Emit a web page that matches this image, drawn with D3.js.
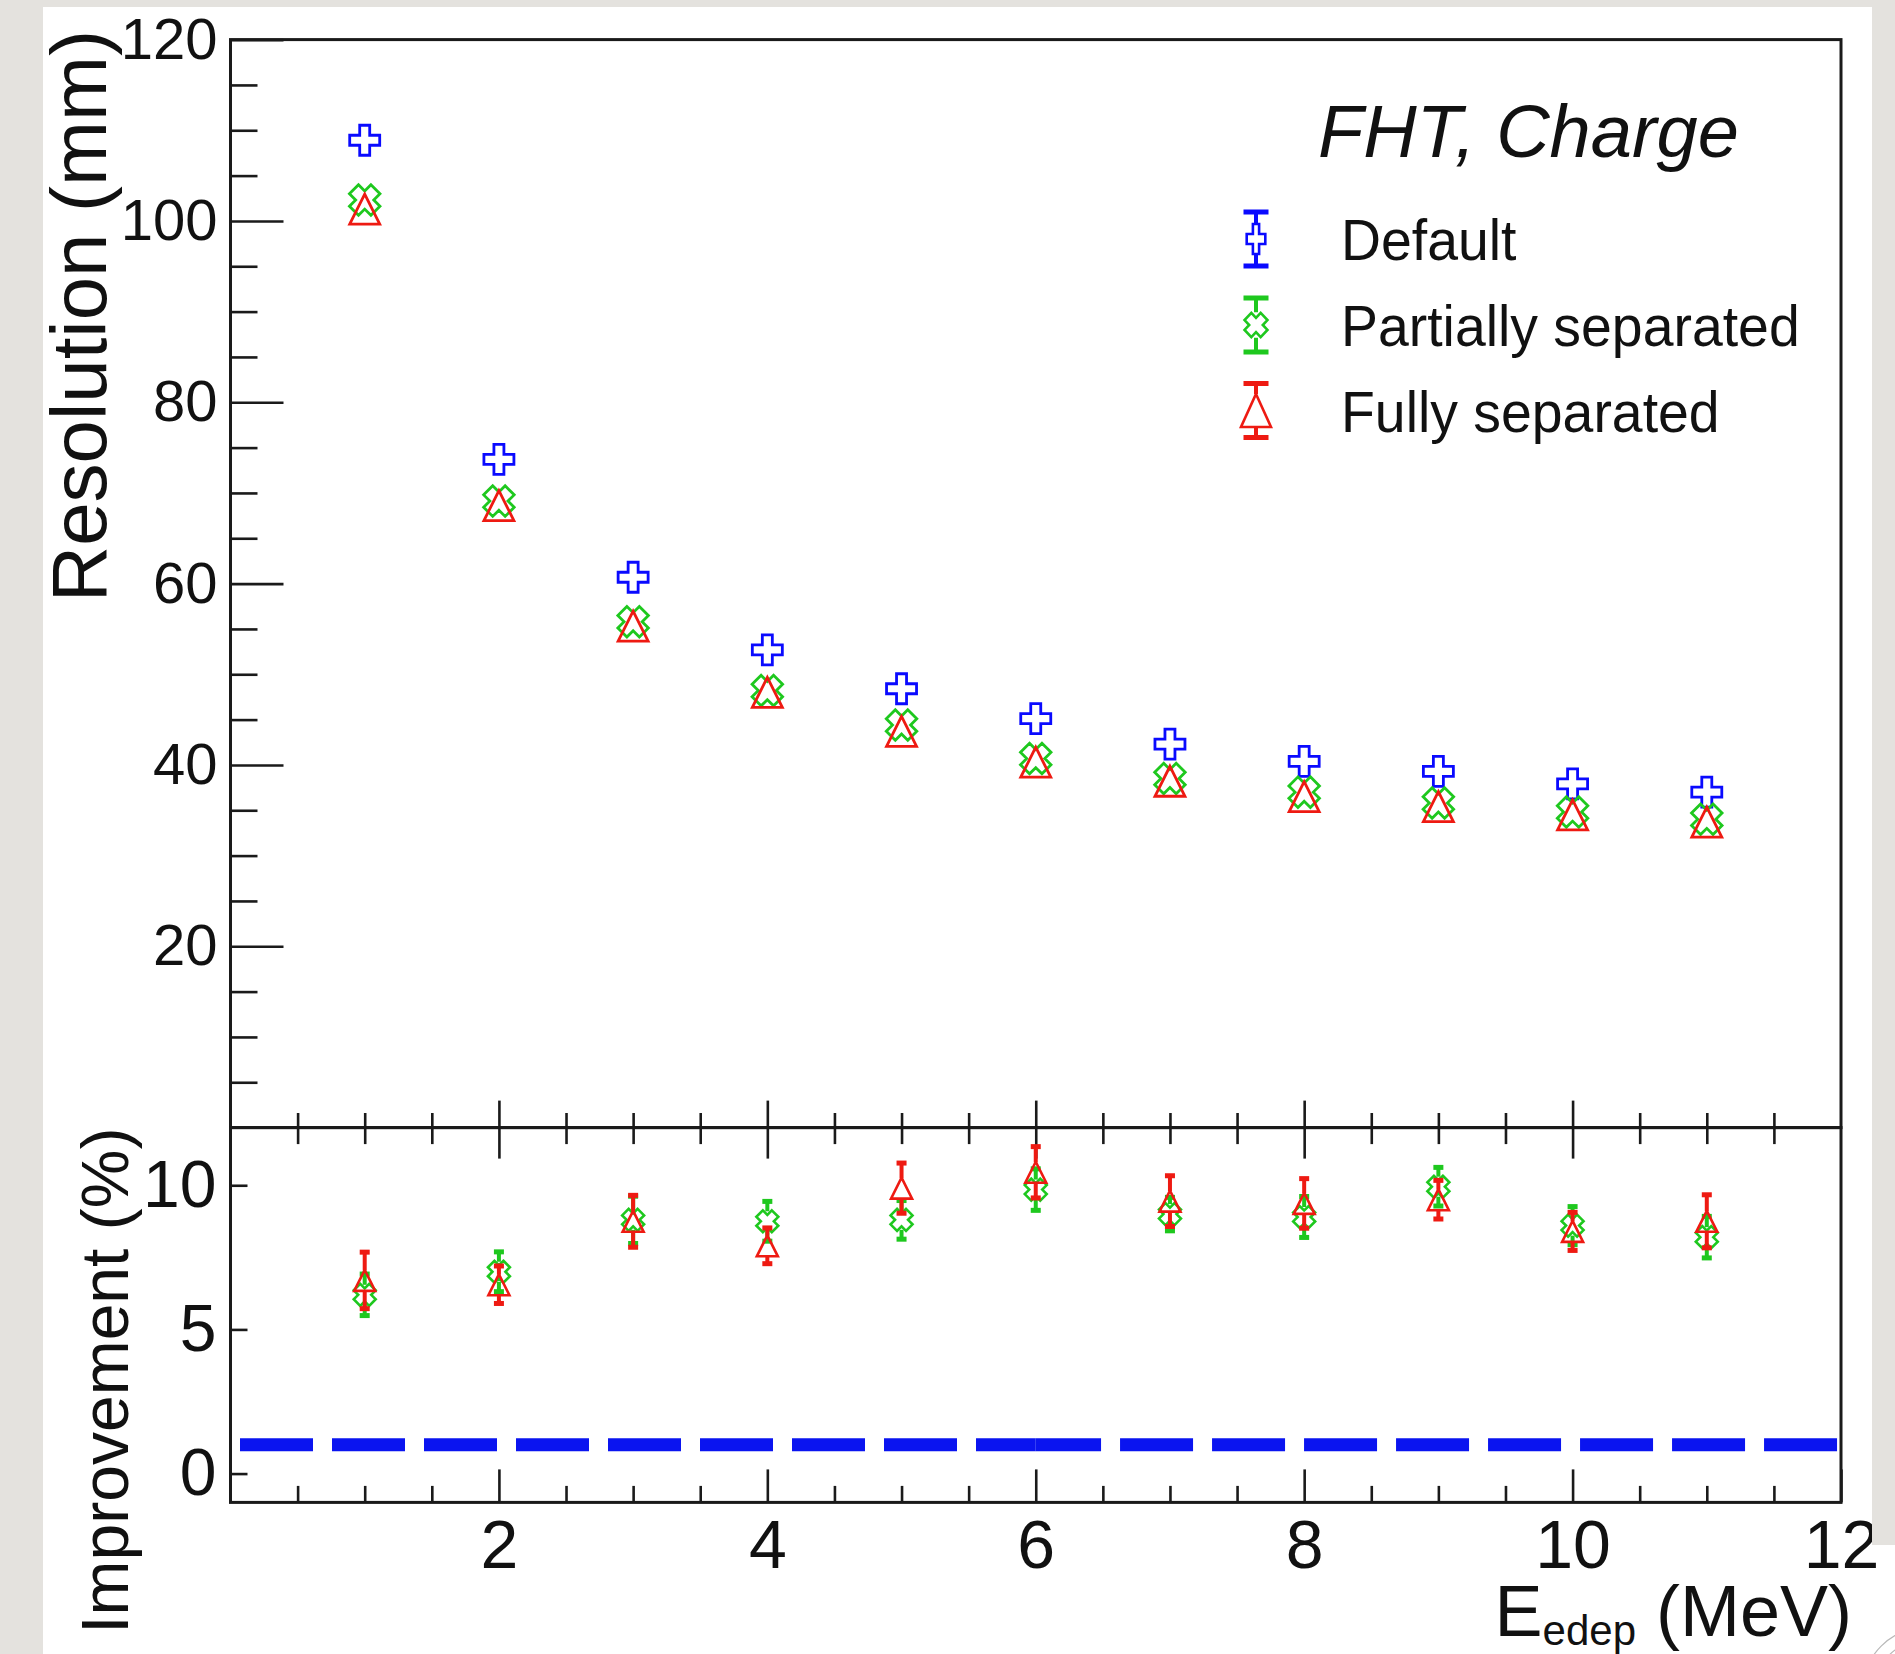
<!DOCTYPE html>
<html>
<head>
<meta charset="utf-8">
<script src="https://cdn.jsdelivr.net/npm/d3@7"></script>
<style>
  body { margin: 0; background: #e4e2de; }
  svg { display: block; font-family: "Liberation Sans", Arial, sans-serif; }
</style>
</head>
<body>
<svg id="chart" width="1895" height="1654"></svg>
<script>
// ---- data ----
const energies = [1, 2, 3, 4, 5, 6, 7, 8, 9, 10, 11];

// resolution (mm), upper pad
const resDefault = [108.9, 73.7, 60.7, 52.7, 48.4, 45.1, 42.3, 40.4, 39.3, 37.9, 37.0];
const resPartial = [102.3, 69.1, 55.8, 48.2, 44.4, 40.7, 38.5, 37.0, 35.8, 34.8, 34.0];
const resFull    = [101.3, 68.6, 55.3, 48.0, 43.7, 40.3, 38.2, 36.5, 35.4, 34.5, 33.7];

// improvement (%), lower pad
const impPartial    = [6.2, 7.0, 8.8, 8.75, 8.8, 9.85, 9.0, 8.9, 9.95, 8.6, 8.2];
const impPartialErr = [0.72, 0.69, 0.82, 0.69, 0.67, 0.72, 0.58, 0.71, 0.67, 0.66, 0.72];
const impFull       = [6.7, 6.55, 8.75, 7.9, 9.9, 10.45, 9.45, 9.37, 9.5, 8.4, 8.75];
const impFullErr    = [0.98, 0.65, 0.9, 0.62, 0.87, 0.89, 0.88, 0.86, 0.67, 0.66, 0.92];

const refLevel = 1;              // dashed line in lower pad
const refSegments = [[0, 6], [6, 12]];

const xTicks = [2, 4, 6, 8, 10, 12];
const resTicks = [20, 40, 60, 80, 100, 120];
const impTicks = [0, 5, 10];

const seriesNames = ['Default', 'Partially separated', 'Fully separated'];
const seriesColors = ['#0a0aff', '#1ec81e', '#ee1a12'];
const seriesShapes = ['cross', 'xcross', 'triangle'];

// ---- layout ----
const frame = {left: 230.5, right: 1841, top: 39.6, mid: 1127.6, bottom: 1502.4};

const svg = d3.select('#chart');

svg.append('rect').attr('width', 1895).attr('height', 1654).attr('fill', '#e4e2de');
svg.append('rect').attr('x', 43).attr('y', 7).attr('width', 1852).attr('height', 1647).attr('fill', '#fff');

const x = d3.scaleLinear().domain([0, 12]).range([frame.left, frame.right]);
const yRes = d3.scaleLinear().domain([0, 120]).range([frame.mid, frame.top]);
const yImp = d3.scaleLinear().domain([-1, 12]).range([frame.bottom, frame.mid]);

function markerPath(shape, s) {
  const a = s / 2;
  if (shape === 'triangle') {
    return `M0,${-a}L${a},${a}L${-a},${a}Z`;
  }
  const w = shape === 'xcross' ? s / 5 : s / 6;
  const h = shape === 'xcross' ? a * 0.95 : a;
  let pts = [[-w, -h], [w, -h], [w, -w], [h, -w], [h, w], [w, w], [w, h],
    [-w, h], [-w, w], [-h, w], [-h, -w], [-w, -w]];
  if (shape === 'xcross') {
    const c = Math.SQRT1_2;
    pts = pts.map(([px, py]) => [c * (px - py), c * (px + py)]);
  }
  return 'M' + pts.map(p => p.join(',')).join('L') + 'Z';
}

function drawAxis(axis, tx, ty, fs) {
  const g = svg.append('g').attr('transform', `translate(${tx},${ty})`).call(axis);
  g.select('.domain').remove();
  g.attr('font-family', null).attr('font-size', fs);
  g.selectAll('line').attr('stroke', '#1a1a1a').attr('stroke-width', 2.6);
  g.selectAll('text').attr('fill', '#111');
  return g;
}

const xMinor = d3.range(0.5, 12, 0.5).filter(v => v % 2 !== 0);
const xMajorInner = xTicks.filter(v => v < 12);

// upper pad axes
drawAxis(d3.axisLeft(yRes).tickValues(resTicks).tickSize(-53).tickPadding(13), frame.left, 0, 58);
drawAxis(d3.axisLeft(yRes).tickValues(d3.range(5, 120, 5).filter(v => v % 20 !== 0)).tickSize(-27).tickFormat(''), frame.left, 0, 10);
drawAxis(d3.axisTop(x).tickValues(xMajorInner).tickSize(27).tickFormat(''), 0, frame.mid, 10);
drawAxis(d3.axisTop(x).tickValues(xMinor).tickSize(14.6).tickFormat(''), 0, frame.mid, 10);

// lower pad axes
drawAxis(d3.axisBottom(x).tickValues(xMajorInner).tickSize(31).tickFormat(''), 0, frame.mid, 10);
drawAxis(d3.axisBottom(x).tickValues(xMinor).tickSize(16.5).tickFormat(''), 0, frame.mid, 10);
drawAxis(d3.axisBottom(x).tickValues(xTicks).tickSize(-33).tickPadding(17), 0, frame.bottom, 68);
drawAxis(d3.axisBottom(x).tickValues(xMinor).tickSize(-16.5).tickFormat(''), 0, frame.bottom, 10);
drawAxis(d3.axisLeft(yImp).tickValues(impTicks).tickSize(-17).tickPadding(14), frame.left, 0, 66);

// frames
svg.append('rect')
  .attr('x', frame.left).attr('y', frame.top)
  .attr('width', frame.right - frame.left).attr('height', frame.mid - frame.top)
  .attr('fill', 'none').attr('stroke', '#1a1a1a').attr('stroke-width', 3);
svg.append('rect')
  .attr('x', frame.left).attr('y', frame.mid)
  .attr('width', frame.right - frame.left).attr('height', frame.bottom - frame.mid)
  .attr('fill', 'none').attr('stroke', '#1a1a1a').attr('stroke-width', 3);

// reference dashed line
const dashOffsets = [82.5, 7.7];
svg.append('g').selectAll('line')
  .data(refSegments)
  .join('line')
  .attr('x1', d => x(d[0])).attr('x2', d => x(d[1]))
  .attr('y1', yImp(refLevel)).attr('y2', yImp(refLevel))
  .attr('stroke', '#0a14f0').attr('stroke-width', 13)
  .attr('stroke-dasharray', '73 19')
  .attr('stroke-dashoffset', (d, i) => dashOffsets[i]);

// upper pad markers
const resSeries = [resDefault, resPartial, resFull];
resSeries.forEach((vals, si) => {
  svg.append('g').selectAll('path')
    .data(vals)
    .join('path')
    .attr('transform', (d, i) => `translate(${x(energies[i])},${yRes(d)})`)
    .attr('d', markerPath(seriesShapes[si], si === 1 ? 32 : 30))
    .attr('fill', 'none')
    .attr('stroke', seriesColors[si])
    .attr('stroke-width', 2.8);
});

// error bar helper: bar outside the marker, with end caps
function drawErrorBars(g, cx, cy, errPx, half, color, lw, capW, capH) {
  if (errPx <= half) return;
  [-1, 1].forEach(dir => {
    g.append('line')
      .attr('x1', cx).attr('x2', cx)
      .attr('y1', cy + dir * half).attr('y2', cy + dir * errPx)
      .attr('stroke', color).attr('stroke-width', lw);
    g.append('rect')
      .attr('x', cx - capW / 2).attr('y', cy + dir * errPx - capH / 2)
      .attr('width', capW).attr('height', capH)
      .attr('fill', color);
  });
}

// lower pad markers
const impSeries = [
  {vals: impPartial, errs: impPartialErr, si: 1},
  {vals: impFull, errs: impFullErr, si: 2}
];
impSeries.forEach(s => {
  const g = svg.append('g');
  s.vals.forEach((v, i) => {
    const cx = x(energies[i]), cy = yImp(v);
    const errPx = yImp(v - s.errs[i]) - cy;
    drawErrorBars(g, cx, cy, errPx, 10, seriesColors[s.si], 4, 10, 5);
  });
  g.selectAll('path')
    .data(s.vals)
    .join('path')
    .attr('transform', (d, i) => `translate(${x(energies[i])},${yImp(d)})`)
    .attr('d', markerPath(seriesShapes[s.si], s.si === 1 ? 23 : 21))
    .attr('fill', 'none')
    .attr('stroke', seriesColors[s.si])
    .attr('stroke-width', 2.6);
});

// legend
svg.append('text')
  .attr('x', 1318).attr('y', 157)
  .attr('font-size', 74).attr('font-style', 'italic').attr('fill', '#111')
  .text('FHT, Charge');

const legendRows = [239, 325, 410.5];
const legendScale = [[0.62, 1], [0.8, 0.85], [1, 1.1]];
seriesNames.forEach((name, i) => {
  const cy = legendRows[i], cx = 1256;
  const g = svg.append('g');
  drawErrorBars(g, cx, cy, 27, 15 * legendScale[i][1], seriesColors[i], 4, 25, 5);
  g.append('path')
    .attr('transform', `translate(${cx},${cy}) scale(${legendScale[i][0]},${legendScale[i][1]})`)
    .attr('d', markerPath(seriesShapes[i], 30))
    .attr('fill', 'none')
    .attr('stroke', seriesColors[i])
    .attr('stroke-width', 2.6)
    .attr('vector-effect', 'non-scaling-stroke');
  g.append('text')
    .attr('transform', `translate(1341,${cy + 21}) scale(0.955,1)`)
    .attr('font-size', 58).attr('fill', '#111')
    .text(name);
});

// axis titles
svg.append('text')
  .attr('transform', 'translate(106,30) rotate(-90)')
  .attr('text-anchor', 'end').attr('font-size', 78).attr('fill', '#111')
  .text('Resolution (mm)');
svg.append('text')
  .attr('transform', `translate(128,${frame.mid}) rotate(-90)`)
  .attr('text-anchor', 'end').attr('font-size', 66).attr('fill', '#111')
  .text('Improvement (%)');

const xTitle = svg.append('text')
  .attr('x', 1852).attr('y', 1636)
  .attr('text-anchor', 'end').attr('font-size', 72).attr('fill', '#111');
xTitle.append('tspan').text('E');
xTitle.append('tspan').attr('font-size', 42).attr('dy', 9).text('edep');
xTitle.append('tspan').attr('dy', -9).text(' (MeV)');

// slide background strips around the figure
svg.append('rect').attr('x', 0).attr('y', 0).attr('width', 43).attr('height', 1654).attr('fill', '#e4e2de');
svg.append('rect').attr('x', 0).attr('y', 0).attr('width', 1895).attr('height', 7).attr('fill', '#e4e2de');
svg.append('rect').attr('x', 1872).attr('y', 0).attr('width', 23).attr('height', 1545).attr('fill', '#e4e2de');

// faint logo edge in the corner
svg.append('g').selectAll('circle')
  .data([62, 50, 38])
  .join('circle')
  .attr('cx', 1925).attr('cy', 1690).attr('r', d => d)
  .attr('fill', 'none').attr('stroke', '#b8b8b8').attr('stroke-width', 1.2);
</script>
</body>
</html>
